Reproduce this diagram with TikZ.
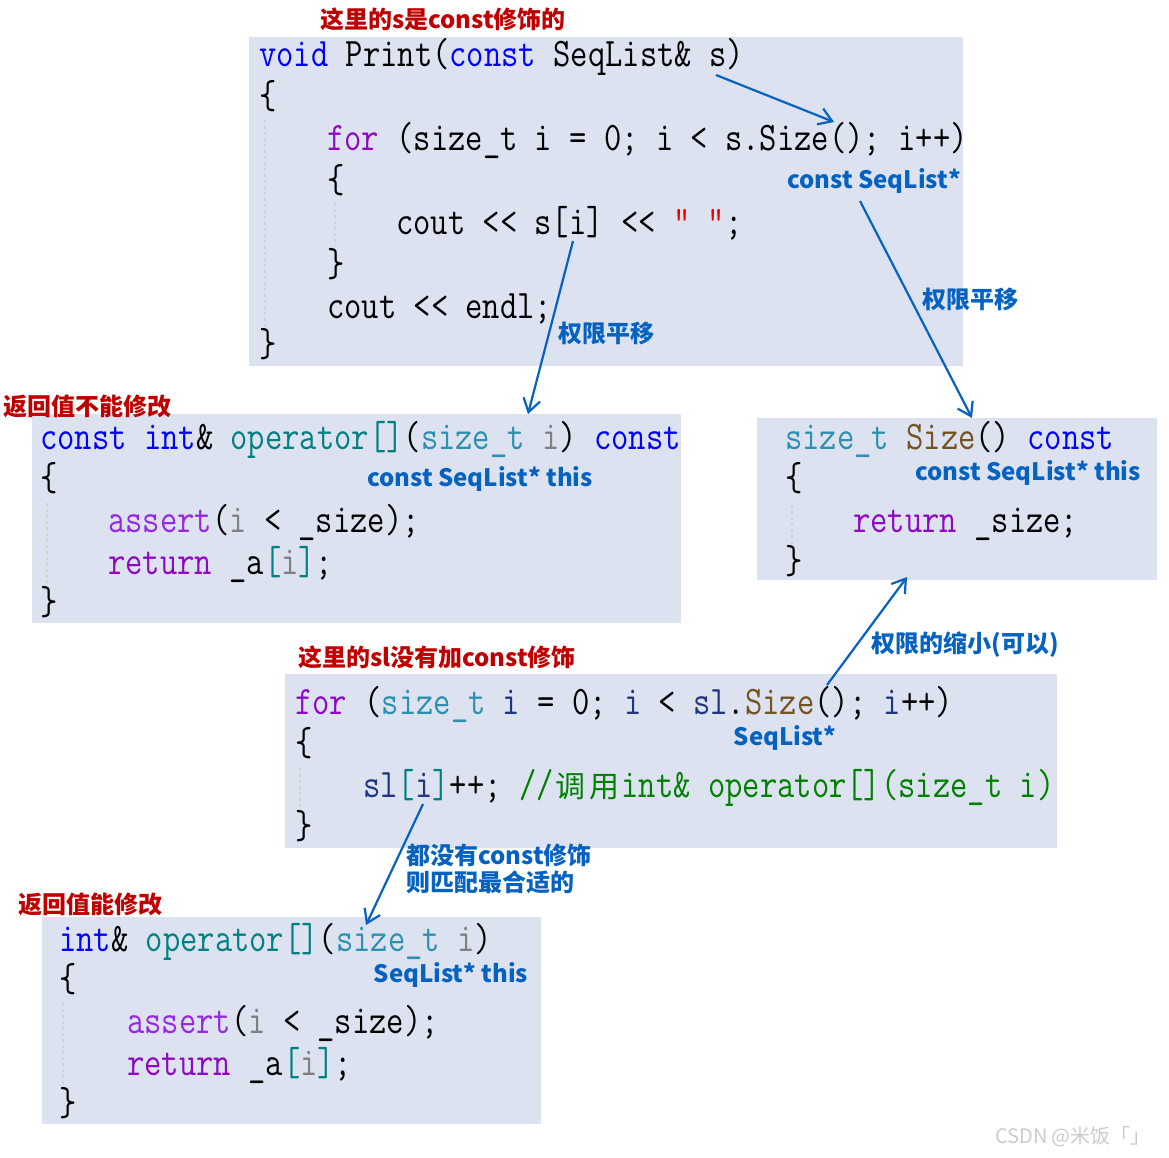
\documentclass[tikz,border=0pt]{standalone}
\usepackage{fontspec}
\usepackage{xcolor}
\usepackage{tikz}
\usetikzlibrary{arrows.meta}
\setmonofont{Latin Modern Mono}[FakeStretch=0.83]
\newfontfamily\cjk{Noto Sans CJK SC}

\definecolor{boxfill}{RGB}{221,226,241}
\definecolor{notered}{RGB}{192,0,0}
\definecolor{noteblue}{RGB}{6,98,192}
\definecolor{kwblue}{RGB}{0,0,255}
\definecolor{ctlpurple}{RGB}{143,8,196}
\definecolor{asrtpurple}{RGB}{150,40,230}
\definecolor{tyteal}{RGB}{43,145,175}
\definecolor{opteal}{RGB}{0,128,128}
\definecolor{fnbrown}{RGB}{116,83,31}
\definecolor{prmgray}{RGB}{128,128,128}
\definecolor{lvnavy}{RGB}{31,55,127}
\definecolor{strred}{RGB}{230,0,0}
\definecolor{cmtgreen}{RGB}{0,128,0}

% syntax colours of the code boxes
\newcommand\kw[1]{\textcolor{kwblue}{#1}}
\newcommand\ctl[1]{\textcolor{ctlpurple}{#1}}
\newcommand\asrt[1]{\textcolor{asrtpurple}{#1}}
\newcommand\ty[1]{\textcolor{tyteal}{#1}}
\newcommand\opn[1]{\textcolor{opteal}{#1}}
\newcommand\fnb[1]{\textcolor{fnbrown}{#1}}
\newcommand\prm[1]{\textcolor{prmgray}{#1}}
\newcommand\lv[1]{\textcolor{lvnavy}{#1}}
\newcommand\strlit[1]{\textcolor{strred}{#1}}
\newcommand\cmt[1]{\textcolor{cmtgreen}{#1}}
\newcommand\zh[1]{\makebox[34pt]{\cjk\fontsize{30}{30}\selectfont #1}}

\begin{document}
\begin{tikzpicture}[x=1pt, y=-1pt,
  codebox/.style={fill=boxfill, draw=none, inner sep=0pt, anchor=north west},
  code/.style={anchor=base west, inner sep=0pt, font=\ttfamily\fontsize{40.5}{42}\selectfont},
  guide/.style={draw=gray!35, dashed, line width=1.5pt},
  note/.style={inner sep=0pt, font=\cjk\bfseries\fontsize{24}{27}\selectfont},
  rednote/.style={note, text=notered},
  bluenote/.style={note, text=noteblue},
  arr/.style={-{Straight Barb[length=13pt,width=17pt]}, line width=2.2pt, draw=noteblue}
]
  \fill[white] (0,0) rectangle (1169,1157);
  \useasboundingbox (0,0) rectangle (1169,1157);

  % code boxes
  \node[codebox, minimum width=714pt, minimum height=329pt] (printbox) at (249,37) {};
  \node[codebox, minimum width=649pt, minimum height=209pt] (cbox) at (32,414) {};
  \node[codebox, minimum width=400pt, minimum height=162pt] (sizebox) at (757,418) {};
  \node[codebox, minimum width=772pt, minimum height=174pt] (loopbox) at (285,674) {};
  \node[codebox, minimum width=499pt, minimum height=207pt] (opbox) at (42,917) {};

  % indent guides
  \draw[guide] (265,120) -- (265,328);
  \draw[guide] (335,203) -- (335,246);
  \draw[guide] (47,503) -- (47,583);
  \draw[guide] (792,505) -- (792,546);
  \draw[guide] (300,768) -- (300,806);
  \draw[guide] (63,1003) -- (63,1086);

  % void Print(const SeqList& s)
  \node[code] (p1) at (259,66) {\kw{void} Print(\kw{const} SeqList\& s)};
  \node[code] (p2) at (259,108) {\{};
  \node[code] (p3) at (327,150) {\ctl{for} (size\_t i = 0; i < s.Size(); i++)};
  \node[code] (p4) at (327,192) {\{};
  \node[code] (p5) at (396,234) {cout << s[i] << \strlit{" "};};
  \node[code] (p6) at (327,276) {\}};
  \node[code] (p7) at (327,318) {cout << endl;};
  \node[code] (p8) at (259,356) {\}};

  % const operator[]
  \node[code] (c1) at (40,449) {\kw{const} \kw{int}\& \opn{operator[]}(\ty{size\_t} \prm{i}) \kw{const}};
  \node[code] (c2) at (40,490) {\{};
  \node[code] (c3) at (108,532) {\asrt{assert}(\prm{i} < \_size);};
  \node[code] (c4) at (108,574) {\ctl{return} \_a\opn{[}\prm{i}\opn{]};};
  \node[code] (c5) at (40,614) {\}};

  % Size() const
  \node[code] (z1) at (785,449) {\ty{size\_t} \fnb{Size}() \kw{const}};
  \node[code] (z2) at (785,490) {\{};
  \node[code] (z3) at (853,532) {\ctl{return} \_size;};
  \node[code] (z4) at (785,573) {\}};

  % loop over sl
  \node[code] (f1) at (295,714) {\ctl{for} (\ty{size\_t} \lv{i} = 0; \lv{i} < \lv{sl}.\fnb{Size}(); \lv{i}++)};
  \node[code] (f2) at (295,755) {\{};
  \node[code] (f3) at (363,797) {\lv{sl}\opn{[}\lv{i}\opn{]}++; \cmt{//\zh{调}\zh{用}int\& operator[](size\_t i)}};
  \node[code] (f4) at (295,838) {\}};

  % operator[]
  \node[code] (n1) at (59,951) {\kw{int}\& \opn{operator[]}(\ty{size\_t} \prm{i})};
  \node[code] (n2) at (59,991) {\{};
  \node[code] (n3) at (127,1033) {\asrt{assert}(\prm{i} < \_size);};
  \node[code] (n4) at (127,1075) {\ctl{return} \_a\opn{[}\prm{i}\opn{]};};
  \node[code] (n5) at (59,1115) {\}};

  % notes
  \node[rednote] (sconst) at (443,19) {这里的s是const修饰的};
  \node[rednote] (noedit) at (87,406) {返回值不能修改};
  \node[rednote] (slnote) at (437,657) {这里的sl没有加const修饰};
  \node[rednote] (canedit) at (90,904) {返回值能修改};
  \node[bluenote] (cptr) at (874,181) {const SeqList*};
  \node[bluenote] (shiftR) at (970,299) {权限平移};
  \node[bluenote] (shiftL) at (606,333) {权限平移};
  \node[bluenote] (cthisL) at (480,479) {const SeqList* this};
  \node[bluenote] (cthisR) at (1028,473) {const SeqList* this};
  \node[bluenote] (shrink) at (965,645) {权限的缩小(可以)};
  \node[bluenote] (ptr) at (785,738) {SeqList*};
  \node[bluenote, align=left, anchor=west] (best) at (406,869) {都没有const修饰\\则匹配最合适的};
  \node[bluenote] (thisB) at (451,975) {SeqList* this};
  \node[font=\cjk\fontsize{20}{20}\selectfont, text=gray!40, inner sep=0pt] (mark) at (1073,1137) {CSDN @米饭「」};

  % arrow ends
  \coordinate (sArg) at (716,75);
  \coordinate (sizeCall) at (834,122);
  \coordinate (cptrEnd) at (860,201);
  \coordinate (sizeDef) at (972,418);
  \coordinate (idxCall) at (573,241);
  \coordinate (opcDef) at (528,414);
  \coordinate (slSize) at (827,685);
  \coordinate (sizeBot) at (907,577);
  \coordinate (slIdx) at (423,804);
  \coordinate (opDef) at (366,925);

  \draw[arr] (sArg) -- (sizeCall);
  \draw[arr] (cptrEnd) -- (sizeDef);
  \draw[arr] (idxCall) -- (opcDef);
  \draw[arr] (slSize) -- (sizeBot);
  \draw[arr] (slIdx) -- (opDef);
\end{tikzpicture}
\end{document}
